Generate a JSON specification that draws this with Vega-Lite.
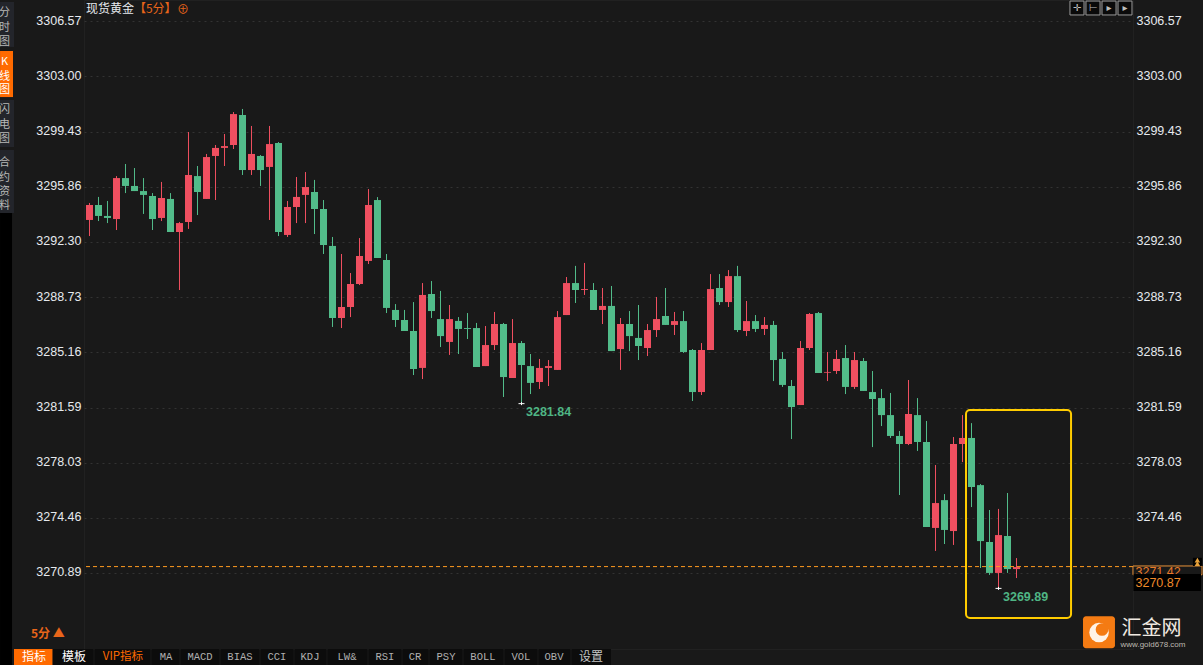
{"$schema":"https://vega.github.io/schema/vega-lite/v6.json","width":1049,"height":649,"autosize":"none","padding":{"left":84,"top":0,"right":70,"bottom":16},"background":"#191919","config":{"view":{"stroke":"#212121"}},
"datasets":{"candles":[
{"i":0,"open":3293.72,"high":3294.82,"low":3292.68,"close":3294.69},{"i":1,"open":3294.69,"high":3295.21,"low":3293.65,"close":3293.98},{"i":2,"open":3293.98,"high":3294.95,"low":3293.52,"close":3293.85},{"i":3,"open":3293.78,"high":3296.56,"low":3293.07,"close":3296.43},{"i":4,"open":3296.43,"high":3297.34,"low":3295.46,"close":3295.92},{"i":5,"open":3295.92,"high":3297.08,"low":3295.59,"close":3295.59},{"i":6,"open":3295.59,"high":3296.43,"low":3294.11,"close":3295.34},{"i":7,"open":3295.27,"high":3295.46,"low":3293.07,"close":3293.78},{"i":8,"open":3293.85,"high":3296.18,"low":3293.65,"close":3295.14},{"i":9,"open":3295.08,"high":3295.46,"low":3292.94,"close":3292.94},
{"i":10,"open":3292.94,"high":3293.59,"low":3289.19,"close":3293.52},{"i":11,"open":3293.59,"high":3299.41,"low":3293.14,"close":3296.63},{"i":12,"open":3296.56,"high":3297.21,"low":3294.04,"close":3295.53},{"i":13,"open":3295.08,"high":3297.99,"low":3295.08,"close":3297.79},{"i":14,"open":3297.86,"high":3298.57,"low":3295.01,"close":3298.38},{"i":15,"open":3298.38,"high":3299.28,"low":3297.21,"close":3298.5},{"i":16,"open":3298.57,"high":3300.7,"low":3298.31,"close":3300.57},{"i":17,"open":3300.51,"high":3300.9,"low":3296.63,"close":3296.95},{"i":18,"open":3296.95,"high":3299.8,"low":3296.63,"close":3297.99},{"i":19,"open":3297.86,"high":3297.92,"low":3295.92,"close":3296.95},
{"i":20,"open":3297.15,"high":3299.8,"low":3293.72,"close":3298.63},{"i":21,"open":3298.7,"high":3298.76,"low":3292.68,"close":3292.94},{"i":22,"open":3292.75,"high":3294.95,"low":3292.62,"close":3294.56},{"i":23,"open":3294.56,"high":3296.5,"low":3293.52,"close":3295.21},{"i":24,"open":3295.34,"high":3296.82,"low":3293.52,"close":3295.85},{"i":25,"open":3295.53,"high":3296.31,"low":3292.81,"close":3294.43},{"i":26,"open":3294.43,"high":3295.01,"low":3291.52,"close":3292.1},{"i":27,"open":3292.04,"high":3292.62,"low":3286.8,"close":3287.38},{"i":28,"open":3287.38,"high":3291.52,"low":3286.73,"close":3288.09},{"i":29,"open":3288.09,"high":3290.29,"low":3287.44,"close":3289.58},
{"i":30,"open":3289.58,"high":3292.55,"low":3289.51,"close":3291.39},{"i":31,"open":3291.07,"high":3295.72,"low":3290.87,"close":3294.69},{"i":32,"open":3295.01,"high":3295.2,"low":3291.26,"close":3291.26},{"i":33,"open":3291.13,"high":3291.52,"low":3287.7,"close":3288.03},{"i":34,"open":3287.9,"high":3288.28,"low":3286.8,"close":3287.25},{"i":35,"open":3287.25,"high":3287.9,"low":3286.54,"close":3286.54},{"i":36,"open":3286.54,"high":3288.41,"low":3283.69,"close":3284.08},{"i":37,"open":3284.15,"high":3289.64,"low":3283.43,"close":3288.87},{"i":38,"open":3288.93,"high":3289.77,"low":3287.38,"close":3287.83},{"i":39,"open":3287.31,"high":3289.13,"low":3285.5,"close":3286.21},
{"i":40,"open":3285.83,"high":3288.22,"low":3284.99,"close":3287.31},{"i":41,"open":3287.19,"high":3287.44,"low":3285.05,"close":3286.67},{"i":42,"open":3286.73,"high":3287.7,"low":3286.02,"close":3286.67},{"i":43,"open":3286.73,"high":3287.06,"low":3284.21,"close":3284.21},{"i":44,"open":3284.27,"high":3286.86,"low":3284.27,"close":3285.63},{"i":45,"open":3285.63,"high":3287.77,"low":3285.31,"close":3286.99},{"i":46,"open":3286.99,"high":3287.06,"low":3282.27,"close":3283.56},{"i":47,"open":3283.5,"high":3287.31,"low":3283.5,"close":3285.76},{"i":48,"open":3285.76,"high":3285.89,"low":3281.84,"close":3284.34},{"i":49,"open":3284.27,"high":3285.05,"low":3282.46,"close":3283.18},
{"i":50,"open":3283.24,"high":3284.73,"low":3282.79,"close":3284.15},{"i":51,"open":3284.15,"high":3284.66,"low":3282.98,"close":3284.27},{"i":52,"open":3284.02,"high":3287.83,"low":3284.02,"close":3287.44},{"i":53,"open":3287.57,"high":3290.03,"low":3287.57,"close":3289.64},{"i":54,"open":3289.64,"high":3290.75,"low":3288.35,"close":3289.19},{"i":55,"open":3289.19,"high":3290.94,"low":3288.87,"close":3289.25},{"i":56,"open":3289.19,"high":3289.64,"low":3287.9,"close":3287.9},{"i":57,"open":3287.9,"high":3289.32,"low":3286.99,"close":3288.16},{"i":58,"open":3288.16,"high":3289.45,"low":3285.24,"close":3285.24},{"i":59,"open":3285.37,"high":3287.38,"low":3284.02,"close":3286.99},
{"i":60,"open":3286.99,"high":3287.83,"low":3285.24,"close":3286.21},{"i":61,"open":3286.09,"high":3288.22,"low":3284.66,"close":3285.57},{"i":62,"open":3285.44,"high":3286.99,"low":3284.92,"close":3286.6},{"i":63,"open":3286.6,"high":3288.74,"low":3286.15,"close":3287.31},{"i":64,"open":3287.51,"high":3289.32,"low":3286.93,"close":3286.93},{"i":65,"open":3286.93,"high":3287.77,"low":3286.28,"close":3287.18},{"i":66,"open":3287.18,"high":3287.83,"low":3285.12,"close":3285.18},{"i":67,"open":3285.31,"high":3285.37,"low":3282.01,"close":3282.59},{"i":68,"open":3282.59,"high":3285.76,"low":3282.4,"close":3285.31},{"i":69,"open":3285.31,"high":3290.22,"low":3285.31,"close":3289.25},
{"i":70,"open":3289.32,"high":3290.22,"low":3288.22,"close":3288.41},{"i":71,"open":3288.41,"high":3290.48,"low":3288.09,"close":3290.09},{"i":72,"open":3290.09,"high":3290.75,"low":3286.47,"close":3286.6},{"i":73,"open":3286.54,"high":3288.48,"low":3286.21,"close":3287.18},{"i":74,"open":3287.18,"high":3287.57,"low":3286.47,"close":3286.67},{"i":75,"open":3286.67,"high":3287.44,"low":3286.28,"close":3286.93},{"i":76,"open":3286.93,"high":3287.19,"low":3283.3,"close":3284.66},{"i":77,"open":3284.73,"high":3285.18,"low":3282.92,"close":3283.05},{"i":78,"open":3282.98,"high":3283.37,"low":3279.55,"close":3281.62},{"i":79,"open":3281.75,"high":3285.89,"low":3281.75,"close":3285.44},
{"i":80,"open":3285.44,"high":3287.7,"low":3285.31,"close":3287.64},{"i":81,"open":3287.7,"high":3287.77,"low":3283.82,"close":3283.82},{"i":82,"open":3283.84,"high":3285.18,"low":3283.3,"close":3283.89},{"i":83,"open":3283.95,"high":3285.31,"low":3283.76,"close":3284.73},{"i":84,"open":3284.79,"high":3285.63,"low":3282.46,"close":3282.92},{"i":85,"open":3282.92,"high":3285.18,"low":3282.79,"close":3284.66},{"i":86,"open":3284.6,"high":3284.79,"low":3282.66,"close":3282.66},{"i":87,"open":3282.59,"high":3283.95,"low":3279.03,"close":3282.14},{"i":88,"open":3282.2,"high":3282.79,"low":3280.39,"close":3281.1},{"i":89,"open":3281.1,"high":3282.53,"low":3279.62,"close":3279.75},
{"i":90,"open":3279.75,"high":3280.07,"low":3275.93,"close":3279.23},{"i":91,"open":3279.23,"high":3283.37,"low":3279.16,"close":3281.17},{"i":92,"open":3281.1,"high":3282.2,"low":3278.78,"close":3279.36},{"i":93,"open":3279.36,"high":3280.72,"low":3273.86,"close":3273.86},{"i":94,"open":3273.8,"high":3277.87,"low":3272.31,"close":3275.41},{"i":95,"open":3275.6,"high":3275.99,"low":3272.76,"close":3273.67},{"i":96,"open":3273.6,"high":3279.68,"low":3272.7,"close":3279.23},{"i":97,"open":3279.23,"high":3281.1,"low":3278.06,"close":3279.62},{"i":98,"open":3279.62,"high":3280.58,"low":3275.15,"close":3276.45},{"i":99,"open":3276.57,"high":3276.64,"low":3271.21,"close":3272.95},
{"i":100,"open":3272.89,"high":3274.96,"low":3270.76,"close":3270.89},{"i":101,"open":3270.89,"high":3275.03,"low":3269.89,"close":3273.34},{"i":102,"open":3273.28,"high":3276.06,"low":3270.89,"close":3271.14},{"i":103,"open":3271.14,"high":3271.85,"low":3270.56,"close":3271.27}]},
"encoding":{"x":{"field":"i","type":"quantitative","axis":null,"scale":{"domain":[-0.6111,115.9444],"nice":false,"zero":false,"padding":0}},"y":{"scale":{"domain":[3265.97,3307.948],"nice":false,"zero":false,"padding":0}}},
"resolve":{"axis":{"y":"independent"}},
"layer":[
{"data":{"name":"candles"},"mark":{"type":"rule","strokeWidth":1},"encoding":{"y":{"field":"high","type":"quantitative","axis":{"orient":"left","values":[3306.57,3303,3299.43,3295.86,3292.3,3288.73,3285.16,3281.59,3278.03,3274.46,3270.89],"format":".2f","title":null,"domain":false,"ticks":false,"labelPadding":3,"labelOffset":-1,"labelColor":"#E6E9EE","labelFont":"Liberation Sans","labelFontSize":12.5,"grid":true,"gridColor":"#333333","gridDash":[2,4],"gridWidth":1}},"y2":{"field":"low"},"color":{"condition":{"test":"datum.close>=datum.open","value":"#EF4F60"},"value":"#52BC8A"}}},
{"data":{"name":"candles"},"mark":{"type":"bar","width":7},"encoding":{"y":{"field":"open","type":"quantitative","axis":{"orient":"right","values":[3306.57,3303,3299.43,3295.86,3292.3,3288.73,3285.16,3281.59,3278.03,3274.46],"format":".2f","title":null,"domain":false,"ticks":false,"labelPadding":3,"labelOffset":-1,"labelColor":"#E6E9EE","labelFont":"Liberation Sans","labelFontSize":12.5,"grid":false}},"y2":{"field":"close"},"color":{"condition":{"test":"datum.close>=datum.open","value":"#EF4F60"},"value":"#52BC8A"}}},
{"data":{"values":[{"price":3271.3}]},"mark":{"type":"rule","stroke":"#FF9A1F","strokeWidth":1,"strokeDash":[4,3]},"encoding":{"x":null,"y":{"field":"price","type":"quantitative","axis":null}}},
{"data":{"values":[{"i":97.39,"i2":109.06,"p":3281.43,"p2":3267.97}]},"mark":{"type":"rect","fill":"transparent","stroke":"#FFCC00","strokeWidth":2,"cornerRadius":4},"encoding":{"x":{"field":"i","type":"quantitative"},"x2":{"field":"i2"},"y":{"field":"p","type":"quantitative","axis":null},"y2":{"field":"p2"}}},
{"data":{"values":[{"i":48,"price":3281.84},{"i":101,"price":3269.89}]},"mark":{"type":"point","shape":"M-1,0H1M0,-0.5V0.5","filled":false,"stroke":"#FFFFFF","strokeWidth":1,"size":36,"opacity":1},"encoding":{"y":{"field":"price","type":"quantitative","axis":null}}},
{"data":{"values":[{"i":48.5,"price":3281.3,"label":"3281.84"},{"i":101.5,"price":3269.33,"label":"3269.89"}]},"mark":{"type":"text","align":"left","baseline":"middle","font":"Liberation Sans","fontSize":12.5,"fontWeight":"bold","color":"#4FB584"},"encoding":{"y":{"field":"price","type":"quantitative","axis":null},"text":{"field":"label"}}},
{"data":{"values":[{"i":-0.39,"price":3307.37,"label":"现货黄金"}]},"mark":{"type":"text","align":"left","baseline":"middle","font":"Noto Sans CJK SC","fontSize":12,"color":"#E6E9EE"},"encoding":{"y":{"field":"price","type":"quantitative","axis":null},"text":{"field":"label"}}},
{"data":{"values":[{"i":4.94,"price":3307.37,"label":"【5分】"},{"i":9.72,"price":3307.33,"label":"⊕"}]},"mark":{"type":"text","align":"left","baseline":"middle","font":"Noto Sans CJK SC","fontSize":12,"color":"#E8651A"},"encoding":{"y":{"field":"price","type":"quantitative","axis":null},"text":{"field":"label"}}},
{"data":{"values":[{"i":108.94,"i2":110.5},{"i":110.72,"i2":112.28},{"i":112.5,"i2":114.06},{"i":114.28,"i2":115.83}]},"mark":{"type":"rect","fill":"#0A0A0A","stroke":"#9A9A9A","strokeWidth":1},"encoding":{"x":{"field":"i","type":"quantitative"},"x2":{"field":"i2"},"y":{"datum":3307.88,"type":"quantitative","axis":null},"y2":{"datum":3306.98}}},
{"data":{"values":[{"i":109.72,"label":"✛"},{"i":111.5,"label":"⊢"},{"i":113.28,"label":"▸"},{"i":115.06,"label":"▸"}]},"mark":{"type":"text","align":"center","baseline":"middle","font":"DejaVu Sans","fontSize":10,"color":"#BDBDBD"},"encoding":{"y":{"datum":3307.43,"type":"quantitative","axis":null},"text":{"field":"label"}}},
{"data":{"values":[{"i":-9.94,"i2":-8.39,"p":3307.82,"p2":3304.91},{"i":-9.94,"i2":-8.39,"p":3301.48,"p2":3298.44},{"i":-9.94,"i2":-8.39,"p":3298.25,"p2":3294.17}]},"mark":{"type":"rect","fill":"#23252B"},"encoding":{"x":{"field":"i","type":"quantitative"},"x2":{"field":"i2"},"y":{"field":"p","type":"quantitative","axis":null},"y2":{"field":"p2"}}},
{"data":{"values":[{"i":-9.94,"i2":-8.5,"p":3304.65,"p2":3301.67}]},"mark":{"type":"rect","fill":"#FF6A00"},"encoding":{"x":{"field":"i","type":"quantitative"},"x2":{"field":"i2"},"y":{"field":"p","type":"quantitative","axis":null},"y2":{"field":"p2"}}},
{"data":{"values":[{"i":-9.94,"i2":-8.61,"p":3294.17,"p2":3264.93}]},"mark":{"type":"rect","fill":"#000000"},"encoding":{"x":{"field":"i","type":"quantitative"},"x2":{"field":"i2"},"y":{"field":"p","type":"quantitative","axis":null},"y2":{"field":"p2"}}},
{"data":{"values":[{"i":-9.44,"price":3307.11,"label":"分"},{"i":-9.44,"price":3306.14,"label":"时"},{"i":-9.44,"price":3305.23,"label":"图"},{"i":-9.44,"price":3300.83,"label":"闪"},{"i":-9.44,"price":3299.86,"label":"电"},{"i":-9.44,"price":3298.96,"label":"图"},{"i":-9.44,"price":3297.4,"label":"合"},{"i":-9.44,"price":3296.43,"label":"约"},{"i":-9.44,"price":3295.53,"label":"资"},{"i":-9.44,"price":3294.62,"label":"料"}]},"mark":{"type":"text","align":"center","baseline":"middle","font":"Noto Sans CJK SC","fontSize":11,"color":"#B8B8B8"},"encoding":{"y":{"field":"price","type":"quantitative","axis":null},"text":{"field":"label"}}},
{"data":{"values":[{"i":-9.44,"price":3303.94,"label":"K"},{"i":-9.44,"price":3302.97,"label":"线"},{"i":-9.44,"price":3302.13,"label":"图"}]},"mark":{"type":"text","align":"center","baseline":"middle","font":"Noto Sans CJK SC","fontSize":11,"color":"#FFFFFF"},"encoding":{"y":{"field":"price","type":"quantitative","axis":null},"text":{"field":"label"}}},
{"data":{"values":[{"i":-4.06,"i2":0.44},{"i":0.56,"i2":6.78},{"i":6.89,"i2":10},{"i":10.11,"i2":14.44},{"i":14.56,"i2":18.89},{"i":19,"i2":22.67},{"i":22.78,"i2":26.33},{"i":26.44,"i2":30.89},{"i":31,"i2":34.67},{"i":34.78,"i2":37.67},{"i":37.78,"i2":41.44},{"i":41.56,"i2":46},{"i":46.11,"i2":49.78},{"i":49.89,"i2":53.44},{"i":53.56,"i2":57.94}]},"mark":{"type":"rect","fill":"#0C0C0C"},"encoding":{"x":{"field":"i","type":"quantitative"},"x2":{"field":"i2"},"y":{"datum":3265.97,"type":"quantitative","axis":null},"y2":{"datum":3264.93}}},
{"data":{"values":[{"i":-8.39,"i2":-4.12}]},"mark":{"type":"rect","fill":"#FF6A00"},"encoding":{"x":{"field":"i","type":"quantitative"},"x2":{"field":"i2"},"y":{"datum":3265.97,"type":"quantitative","axis":null},"y2":{"datum":3264.93}}},
{"data":{"values":[{"i":-6.17,"label":"指标"},{"i":-1.72,"label":"模板"}]},"mark":{"type":"text","align":"center","baseline":"middle","font":"Noto Sans CJK SC","fontSize":12,"color":"#FFFFFF"},"encoding":{"y":{"datum":3265.45,"type":"quantitative","axis":null},"text":{"field":"label"}}},
{"data":{"values":[{"i":3.72,"label":"VIP指标"}]},"mark":{"type":"text","align":"center","baseline":"middle","font":"Noto Sans CJK SC","fontSize":11.5,"color":"#FF6A00"},"encoding":{"y":{"datum":3265.45,"type":"quantitative","axis":null},"text":{"field":"label"}}},
{"data":{"values":[{"i":8.5,"label":"MA"},{"i":12.28,"label":"MACD"},{"i":16.72,"label":"BIAS"},{"i":20.83,"label":"CCI"},{"i":24.5,"label":"KDJ"},{"i":28.61,"label":"LW&"},{"i":32.83,"label":"RSI"},{"i":36.17,"label":"CR"},{"i":39.61,"label":"PSY"},{"i":43.72,"label":"BOLL"},{"i":47.94,"label":"VOL"},{"i":51.61,"label":"OBV"}]},"mark":{"type":"text","align":"center","baseline":"middle","font":"Liberation Mono","fontSize":10.5,"color":"#B0B0B0"},"encoding":{"y":{"datum":3265.45,"type":"quantitative","axis":null},"text":{"field":"label"}}},
{"data":{"values":[{"i":55.72,"label":"设置"}]},"mark":{"type":"text","align":"center","baseline":"middle","font":"Noto Sans CJK SC","fontSize":12,"color":"#C4C4C4"},"encoding":{"y":{"datum":3265.45,"type":"quantitative","axis":null},"text":{"field":"label"}}},
{"data":{"values":[{"i":-6.5,"label":"5分 ▲"}]},"mark":{"type":"text","align":"left","baseline":"middle","font":"Noto Sans CJK SC","fontSize":12,"fontWeight":"bold","color":"#E8651A"},"encoding":{"y":{"datum":3266.96,"type":"quantitative","axis":null},"text":{"field":"label"}}},
{"data":{"values":[{"i":115.94,"i2":123.61,"p":3271.34,"p2":3270.77}]},"mark":{"type":"rect","fill":"#191919","stroke":"#E8923A","strokeWidth":1},"encoding":{"x":{"field":"i","type":"quantitative"},"x2":{"field":"i2"},"y":{"field":"p","type":"quantitative","axis":null},"y2":{"field":"p2"}}},
{"data":{"values":[{"i":116.22,"price":3270.94,"label":"3271.42"}]},"mark":{"type":"text","align":"left","baseline":"middle","font":"Liberation Sans","fontSize":12.5,"color":"#E8792A"},"encoding":{"y":{"field":"price","type":"quantitative","axis":null},"text":{"field":"label"}}},
{"data":{"values":[{"i":116,"i2":123.5,"p":3270.82,"p2":3269.72}]},"mark":{"type":"rect","fill":"#000000"},"encoding":{"x":{"field":"i","type":"quantitative"},"x2":{"field":"i2"},"y":{"field":"p","type":"quantitative","axis":null},"y2":{"field":"p2"}}},
{"data":{"values":[{"i":116.22,"price":3270.24,"label":"3270.87"}]},"mark":{"type":"text","align":"left","baseline":"middle","font":"Liberation Sans","fontSize":12.5,"color":"#F08A2A"},"encoding":{"y":{"field":"price","type":"quantitative","axis":null},"text":{"field":"label"}}},
{"data":{"values":[{"i":122.6,"i2":123.6,"p":3271.87,"p2":3271.34}]},"mark":{"type":"rect","fill":"#000000"},"encoding":{"x":{"field":"i","type":"quantitative"},"x2":{"field":"i2"},"y":{"field":"p","type":"quantitative","axis":null},"y2":{"field":"p2"}}},
{"data":{"values":[{"i":123.1,"price":3271.72},{"i":123.1,"price":3271.5}]},"mark":{"type":"point","shape":"triangle-up","filled":true,"fill":"#E8A23A","size":30,"opacity":1},"encoding":{"y":{"field":"price","type":"quantitative","axis":null}}},
{"data":{"values":[{"i":110.39,"i2":113.94,"p":3268.09,"p2":3266.02}]},"mark":{"type":"rect","fill":"#F47B13","cornerRadius":3},"encoding":{"x":{"field":"i","type":"quantitative"},"x2":{"field":"i2"},"y":{"field":"p","type":"quantitative","axis":null},"y2":{"field":"p2"}}},
{"data":{"values":[{"i":112.17,"price":3267.03}]},"mark":{"type":"point","shape":"circle","filled":true,"fill":"#FFF3E6","size":380,"opacity":1},"encoding":{"y":{"field":"price","type":"quantitative","axis":null}}},
{"data":{"values":[{"i":112.5,"price":3267.23}]},"mark":{"type":"point","shape":"circle","filled":true,"fill":"#F47B13","size":160,"opacity":1},"encoding":{"y":{"field":"price","type":"quantitative","axis":null}}},
{"data":{"values":[{"i":114.67,"label":"汇金网"}]},"mark":{"type":"text","align":"left","baseline":"middle","font":"Noto Sans CJK SC","fontSize":20,"color":"#EFE9E1"},"encoding":{"y":{"datum":3267.25,"type":"quantitative","axis":null},"text":{"field":"label"}}},
{"data":{"values":[{"i":114.56,"label":"www.gold678.com"}]},"mark":{"type":"text","align":"left","baseline":"middle","font":"Liberation Sans","fontSize":8,"color":"#BDB8B0"},"encoding":{"y":{"datum":3266.21,"type":"quantitative","axis":null},"text":{"field":"label"}}}
]}
